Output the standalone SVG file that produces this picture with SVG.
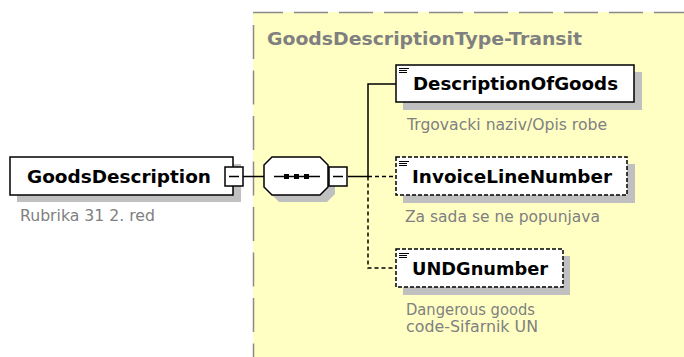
<svg xmlns="http://www.w3.org/2000/svg" width="684" height="357" viewBox="0 0 684 357">
<style>
.bg{fill:#ffffff}
.area{fill:#ffffc4}
.frame{stroke:#8a8a8a;stroke-width:1.5;fill:none}
.box{fill:#ffffff;stroke:#000000;stroke-width:1.5}
.opt{stroke-dasharray:4 2}
.shadow{fill:#c0c0c0}
.icon{stroke:#000000;stroke-width:1.2;fill:none}
.name{font-family:"DejaVu Sans",Verdana,sans-serif;font-weight:bold;font-size:18.5px;fill:#000000}
.title{font-family:"DejaVu Sans",Verdana,sans-serif;font-weight:bold;font-size:17px;fill:#808080}
.doc{font-family:"DejaVu Sans",Verdana,sans-serif;font-size:15px;fill:#808080}
.conn{stroke:#000000;stroke-width:1.5;fill:none}
.dash{stroke-dasharray:4 3}
</style>
<rect class="bg" x="0" y="0" width="684" height="357"/>
<g id="GoodsDescriptionType-Transit">
  <rect class="area" x="253" y="12" width="431" height="345"/>
  <line class="frame" x1="253" y1="12.5" x2="684" y2="12.5" stroke-dasharray="34 11" stroke-dashoffset="4"/>
  <line class="frame" x1="253.5" y1="25" x2="253.5" y2="357" stroke-dasharray="34 11.5"/>
  <text class="title" x="267" y="45" textLength="315" lengthAdjust="spacingAndGlyphs">GoodsDescriptionType-Transit</text>
</g>
<g id="connectors">
  <path class="conn" d="M243 176.5 H264"/>
  <path class="conn" d="M348 176.5 H368"/>
  <path class="conn" d="M368 176.5 V84 H396"/>
  <path class="conn dash" d="M368 176.5 H396"/>
  <path class="conn dash" d="M368 176.5 V268 H396"/>
</g>
<g id="GoodsDescription">
  <rect class="shadow" x="17" y="164" width="224" height="38"/>
  <rect class="box" x="10" y="157" width="223" height="38"/>
  <rect class="box" x="225" y="167" width="18" height="19"/>
  <line class="conn" x1="229" y1="176.5" x2="239" y2="176.5"/>
  <text class="name" x="27" y="183" textLength="184" lengthAdjust="spacingAndGlyphs">GoodsDescription</text>
  <text class="doc" x="20" y="221" textLength="135" lengthAdjust="spacingAndGlyphs">Rubrika 31 2. red</text>
</g>
<g id="sequence">
  <polygon class="shadow" points="279,164 327,164 335,172 335,194 327,202 279,202 271,194 271,172"/>
  <polygon class="box" points="272,157 320,157 328,165 328,187 320,195 272,195 264,187 264,165"/>
  <line class="conn" x1="274" y1="176.5" x2="320" y2="176.5"/>
  <rect x="284" y="174" width="5" height="5" fill="#000"/>
  <rect x="294" y="174" width="5" height="5" fill="#000"/>
  <rect x="304" y="174" width="5" height="5" fill="#000"/>
  <rect class="box" x="329" y="167" width="18" height="19"/>
  <line class="conn" x1="333" y1="176.5" x2="343" y2="176.5"/>
</g>
<g id="DescriptionOfGoods">
  <rect class="shadow" x="403" y="72" width="239" height="38"/>
  <rect class="box" x="396" y="65" width="238" height="37"/>
  <path class="icon" d="M399 68.5 H409 M399 70.5 H407 M399 72.5 H407"/>
  <text class="name" x="413" y="90" textLength="205" lengthAdjust="spacingAndGlyphs">DescriptionOfGoods</text>
  <text class="doc" x="407" y="130" textLength="200" lengthAdjust="spacingAndGlyphs">Trgovacki naziv/Opis robe</text>
</g>
<g id="InvoiceLineNumber">
  <rect class="shadow" x="403" y="164" width="232" height="39"/>
  <rect class="box opt" x="396" y="157" width="231" height="38"/>
  <path class="icon" d="M399 161.5 H409 M399 163.5 H407 M399 165.5 H407"/>
  <text class="name" x="412" y="183" textLength="200" lengthAdjust="spacingAndGlyphs">InvoiceLineNumber</text>
  <text class="doc" x="405" y="222" textLength="195" lengthAdjust="spacingAndGlyphs">Za sada se ne popunjava</text>
</g>
<g id="UNDGnumber">
  <rect class="shadow" x="403" y="256" width="167" height="39"/>
  <rect class="box opt" x="396" y="249" width="167" height="38"/>
  <path class="icon" d="M399 253.5 H409 M399 255.5 H407 M399 257.5 H407"/>
  <text class="name" x="412" y="275" textLength="136" lengthAdjust="spacingAndGlyphs">UNDGnumber</text>
  <text class="doc" x="406" y="315" textLength="129" lengthAdjust="spacingAndGlyphs">Dangerous goods</text>
  <text class="doc" x="406" y="332" textLength="132" lengthAdjust="spacingAndGlyphs">code-Sifarnik UN</text>
</g>
</svg>
